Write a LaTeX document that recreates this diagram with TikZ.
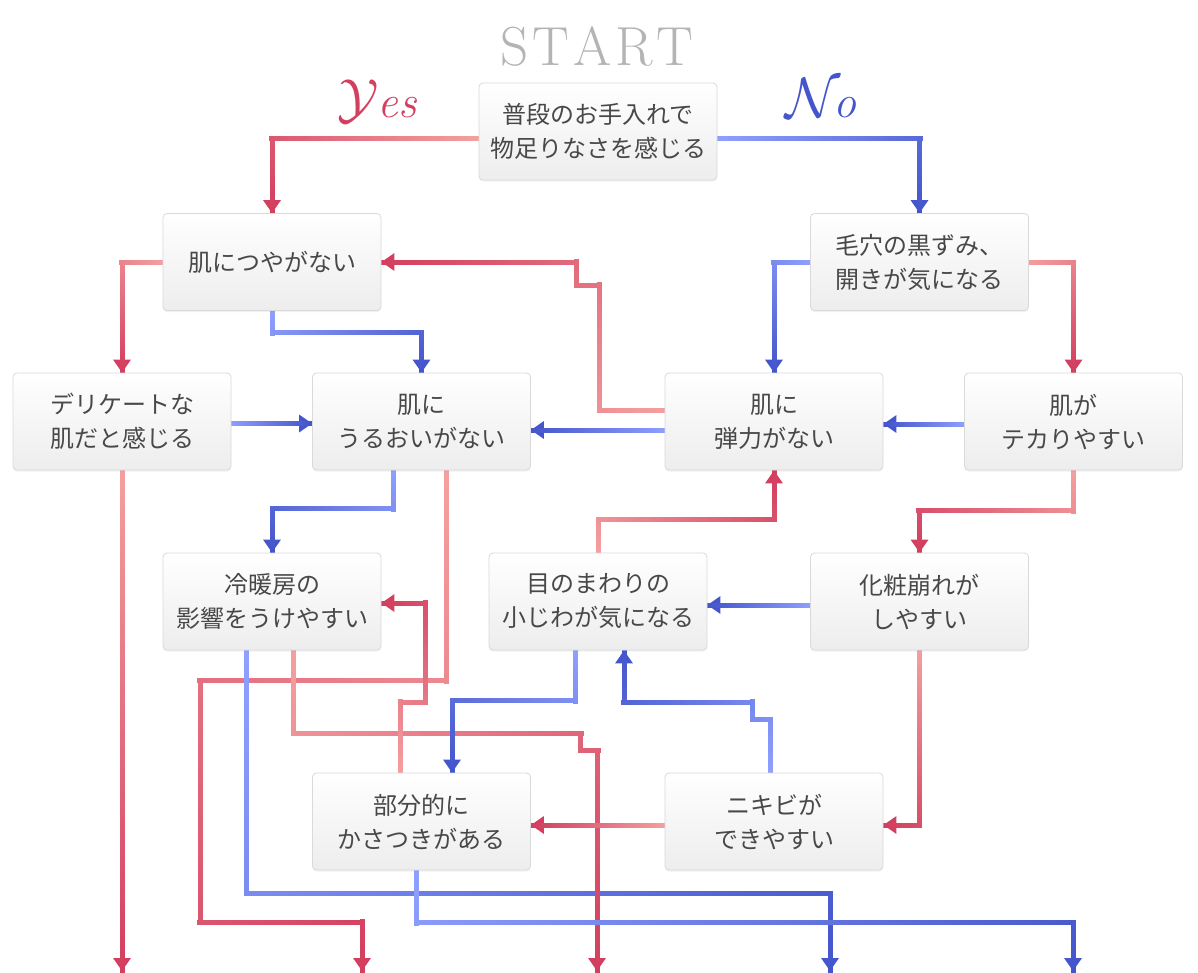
\RequirePackage{fix-cm}
\documentclass[tikz,border=0pt]{standalone}
\usepackage{fontspec}
\newfontfamily\jpfont{Noto Sans CJK JP}
\usetikzlibrary{arrows.meta,decorations.markings,calc,shadows}
\definecolor{rdark}{HTML}{D33F5F}
\definecolor{rlight}{HTML}{F4A0A0}
\definecolor{bdark}{HTML}{4556CC}
\definecolor{blight}{HTML}{8FA0FF}
\definecolor{boxborder}{HTML}{DADADA}
\definecolor{boxbot}{HTML}{EDEDED}
\definecolor{txtgray}{HTML}{484848}
\definecolor{startgray}{HTML}{B4B4B4}
\pgfdeclarelayer{bg}
\pgfsetlayers{bg,main}
\newcommand\conn[2]{%
  \draw[#1dark, line width=5pt, -{Triangle[width=17pt,length=13pt]}] #2;
  \path[decorate, decoration={markings,
    mark=between positions 0 and 1 step 2pt with {%
      \pgfmathsetmacro\mixpct{min(100,max(0,(\pgfkeysvalueof{/pgf/decoration/mark info/distance from start}/\pgfdecoratedpathlength)*100))}%
      \fill[#1dark!\mixpct!#1light] (-3.5pt,-2.5pt) rectangle (3.5pt,2.5pt);}}] #2;
}
\tikzset{
  box/.style={draw=boxborder, line width=0.8pt, rounded corners=4pt,
    top color=white, bottom color=boxbot,
    minimum width=218pt, minimum height=97pt, align=center, inner sep=0pt,
    text=txtgray, font=\jpfont\fontsize{24}{34}\selectfont,
    drop shadow={shadow xshift=0pt, shadow yshift=-1.5pt, opacity=0.10}},
  widebox/.style={box, minimum width=238pt}
}
\begin{document}
\begin{tikzpicture}[x=1pt,y=-1pt]
\useasboundingbox (0,0) rectangle (1198,972);

\node[text=startgray, font=\fontsize{55}{55}\selectfont] (start) at (597,46) {S\kern4pt T\kern4pt A\kern4pt R\kern4pt T};
\node[text=rdark, font=\fontsize{46}{46}\selectfont, anchor=base east] (yes) at (421,117) {{\fontsize{55}{55}\selectfont$\mathcal{Y}$}\kern-1pt\textit{es}};
\node[text=bdark, font=\fontsize{46}{46}\selectfont, anchor=base west] (no) at (782,117) {{\fontsize{57}{57}\selectfont$\mathcal{N}$}\kern-7pt\textit{o}};

\node[widebox] (n1) at (598,131.5) {普段のお手入れで\\物足りなさを感じる};
\node[box] (n2) at (272,262) {肌につやがない};
\node[box] (n3) at (919.5,262) {毛穴の黒ずみ、\\開きが気になる};
\node[box] (n4) at (122,421.5) {デリケートな\\肌だと感じる};
\node[box] (n5) at (421.5,421.5) {肌に\\うるおいがない};
\node[box] (n6) at (774,421.5) {肌に\\弾力がない};
\node[box] (n7) at (1073.5,421.5) {肌が\\テカりやすい};
\node[box] (n8) at (272,601.5) {冷暖房の\\影響をうけやすい};
\node[box] (n9) at (598,601.5) {目のまわりの\\小じわが気になる};
\node[box] (n10) at (919.5,601.5) {化粧崩れが\\しやすい};
\node[box] (n11) at (421.5,821.5) {部分的に\\かさつきがある};
\node[box] (n12) at (774,821.5) {ニキビが\\できやすい};

\coordinate (e1) at (122,971);
\coordinate (e2) at (362,971);
\coordinate (e3) at (597,971);
\coordinate (e4) at (830,971);
\coordinate (e5) at (1073,971);
\coordinate (k10) at (200,922);

\begin{pgfonlayer}{bg}
\fill[white] (0,0) rectangle (1198,972);
\conn{r}{($(n1.west)+(0,7)$) -| (n2.north)}
\conn{b}{($(n1.east)+(0,7)$) -| (n3.north)}
\conn{r}{(n2.west) -| (n4.north)}
\conn{b}{(n2.south) -- ++(0,22) -| (n5.north)}
\conn{b}{(n3.west) -| (n6.north)}
\conn{r}{(n3.east) -| (n7.north)}
\conn{b}{($(n4.east)+(0,2)$) -- ($(n5.west)+(0,2)$)}
\conn{r}{(n4.south) -- (e1)}
\conn{b}{($(n5.south)+(-28.5,0)$) -- ++(0,38) -| (n8.north)}
\conn{r}{($(n5.south)+(24.5,0)$) -- ++(0,210) -| (k10) -| (e2)}
\conn{b}{($(n6.west)+(0,8.5)$) -- ($(n5.east)+(0,8.5)$)}
\conn{r}{($(n6.west)+(0,-11.5)$) -- ++(-65,0) -- ++(0,-125) -- ++(-23,0) |- (n2.east)}
\conn{b}{($(n7.west)+(0,2.5)$) -- ($(n6.east)+(0,2.5)$)}
\conn{r}{(n7.south) -- ++(0,40) -| (n10.north)}
\conn{b}{($(n8.south)+(-26,0)$) -- ++(0,243) -| (e4)}
\conn{r}{($(n8.south)+(21,0)$) -- ++(0,83) -- ++(287,0) -- ++(0,17) -| (e3)}
\conn{r}{(n9.north) -- ++(0,-33) -| (n6.south)}
\conn{b}{($(n9.south)+(-23,0)$) -- ++(0,50) -| ($(n11.north)+(30.5,0)$)}
\conn{b}{($(n10.west)+(0,3.5)$) -- ($(n9.east)+(0,3.5)$)}
\conn{r}{(n10.south) |- ($(n12.east)+(0,3.5)$)}
\conn{r}{($(n11.north)+(-21.5,0)$) -- ++(0,-70) -- ++(25,0) |- ($(n8.east)+(0,1.5)$)}
\conn{b}{($(n11.south)+(-5.5,0)$) -- ++(0,52) -| (e5)}
\conn{r}{($(n12.west)+(0,3.5)$) -- ($(n11.east)+(0,3.5)$)}
\conn{b}{($(n12.north)+(-4,0)$) -- ++(0,-53) -- ++(-18,0) -- ++(0,-17) -| ($(n9.south)+(26,0)$)}
\end{pgfonlayer}
\end{tikzpicture}
\end{document}
